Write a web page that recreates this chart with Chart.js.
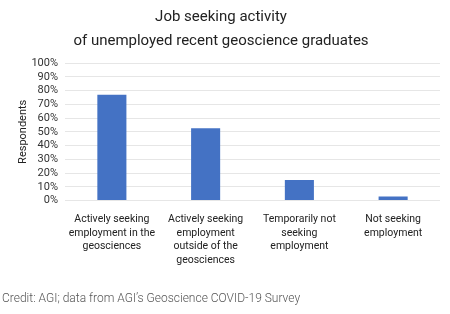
<!DOCTYPE html>
<html>
<head>
<meta charset="utf-8">
<script src="https://cdn.jsdelivr.net/npm/chart.js@4/dist/chart.umd.min.js"></script>
<style>
  html, body { margin: 0; padding: 0; background: #fff; }
  #wrap { width: 450px; height: 314px; }
</style>
</head>
<body>
<div id="wrap"><canvas id="jobChart" width="450" height="314"></canvas></div>
<script>
// categories (multi-line labels as drawn under the bars)
const categories = [
  ["Actively seeking", "employment in the", "geosciences"],
  ["Actively seeking", "employment", "outside of the", "geosciences"],
  ["Temporarily not", "seeking", "employment"],
  ["Not seeking", "employment"],
];
// share of respondents, percent
const respondents = [77, 52.5, 15, 3];
const yTickStep = 10;

const titleLines = ["Job seeking activity", "of unemployed recent geoscience graduates"];
const credit = "Credit: AGI; data from AGI\u2019s Geoscience COVID-19 Survey";

const ctx = document.getElementById("jobChart").getContext("2d");
const chart = new Chart(ctx, {
  type: "bar",
  data: {
    labels: categories,
    datasets: [{
      label: "Respondents",
      data: respondents,
      backgroundColor: "#4472c4",
      borderWidth: 0,
      barPercentage: 0.31,
      categoryPercentage: 1,
    }],
  },
  options: {
    responsive: false,
    animation: false,
    layout: { padding: { left: 2, right: 10, top: 0, bottom: 0 } },
    plugins: {
      legend: { display: false },
      tooltip: { enabled: false },
      title: {
        display: true,
        text: titleLines,
        color: "#222",
        font: { family: "Roboto", size: 15, weight: "normal", lineHeight: 1.6 },
        padding: { top: 5, bottom: 10 },
      },
      subtitle: {
        display: true,
        position: "bottom",
        align: "start",
        text: credit,
        color: "#555",
        font: { family: "Roboto", size: 12, weight: "300" },
        padding: { top: 0, bottom: 8 },
      },
    },
    scales: {
      x: {
        grid: { display: false },
        border: { display: false },
        ticks: {
          color: "#222",
          font: { family: "Roboto", size: 10.5, lineHeight: 1.3 },
          maxRotation: 0,
          autoSkip: false,
          padding: 4,
        },
        afterFit: (scale) => { scale.height = 91; },
      },
      y: {
        min: 0,
        max: 100,
        grid: { color: "#e6e6e6", lineWidth: 1, drawTicks: false },
        border: { display: false },
        ticks: {
          stepSize: yTickStep,
          autoSkip: false,
          color: "#333",
          font: { family: "Roboto", size: 11 },
          padding: 7,
          callback: (v) => v + "%",
        },
        title: {
          display: true,
          text: "Respondents",
          color: "#222",
          font: { family: "Roboto", size: 11 },
          padding: { top: 15, bottom: 0 },
        },
        afterFit: (scale) => { scale.width = 63; },
      },
    },
  },
});
</script>
</body>
</html>
